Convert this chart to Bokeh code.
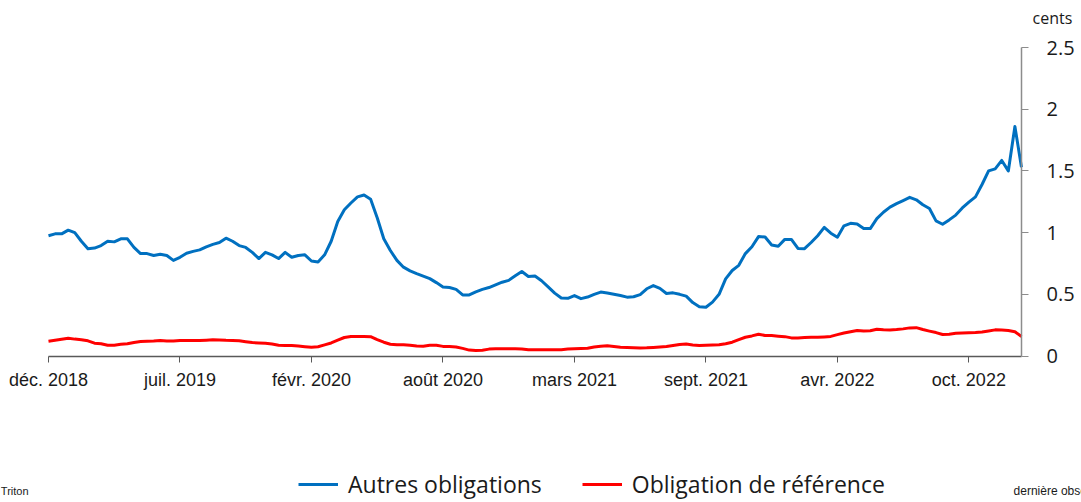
from bokeh.plotting import figure
from bokeh.models import Range1d, FixedTicker, NumeralTickFormatter, Legend, LegendItem, Label
from bokeh.embed import file_html
from bokeh.resources import INLINE

# Weekly-ish observations (category axis), cents
autres_obligations = [
    0.975, 0.99, 0.99, 1.02, 1.0, 0.93, 0.87, 0.875, 0.895, 0.93,
    0.925, 0.95, 0.95, 0.88, 0.83, 0.83, 0.815, 0.825, 0.815, 0.775,
    0.80, 0.833, 0.848, 0.86, 0.885, 0.905, 0.92, 0.955, 0.93, 0.895,
    0.88, 0.84, 0.79, 0.84, 0.82, 0.79, 0.84, 0.80, 0.815, 0.82,
    0.77, 0.762, 0.82, 0.93, 1.09, 1.185, 1.24, 1.29, 1.305, 1.27,
    1.12, 0.95, 0.855, 0.775, 0.72, 0.69, 0.668, 0.648, 0.627, 0.595,
    0.56, 0.555, 0.54, 0.495, 0.495, 0.52, 0.54, 0.555, 0.577, 0.598,
    0.613, 0.65, 0.685, 0.645, 0.648, 0.61, 0.56, 0.51, 0.47, 0.468,
    0.49, 0.465, 0.478, 0.50, 0.518, 0.51, 0.50, 0.49, 0.477, 0.48,
    0.498, 0.545, 0.571, 0.548, 0.507, 0.512, 0.50, 0.485, 0.433, 0.40,
    0.395, 0.437, 0.50, 0.625, 0.693, 0.735, 0.83, 0.885, 0.968, 0.965,
    0.90, 0.89, 0.945, 0.945, 0.872, 0.87, 0.92, 0.975, 1.042, 0.995,
    0.963, 1.055, 1.075, 1.07, 1.033, 1.033, 1.113, 1.165, 1.207, 1.235,
    1.26, 1.286, 1.266, 1.226, 1.195, 1.095, 1.068, 1.103, 1.142, 1.20,
    1.247, 1.29, 1.39, 1.50, 1.517, 1.585, 1.50, 1.86, 1.53,
]

obligation_reference = [
    0.12, 0.128, 0.136, 0.144, 0.137, 0.132, 0.123, 0.104, 0.10, 0.088,
    0.088, 0.095, 0.099, 0.11, 0.118, 0.12, 0.122, 0.126, 0.122, 0.121,
    0.126, 0.126, 0.126, 0.126, 0.128, 0.131, 0.13, 0.127, 0.126, 0.124,
    0.116, 0.109, 0.106, 0.104, 0.097, 0.088, 0.085, 0.085, 0.082, 0.076,
    0.071, 0.075, 0.09, 0.106, 0.128, 0.15, 0.158, 0.158, 0.158, 0.157,
    0.133, 0.112, 0.095, 0.091, 0.091, 0.088, 0.081, 0.08, 0.087, 0.088,
    0.078, 0.077, 0.073, 0.062, 0.048, 0.045, 0.047, 0.056, 0.058, 0.058,
    0.058, 0.058, 0.057, 0.05, 0.05, 0.05, 0.05, 0.05, 0.051, 0.056,
    0.059, 0.061, 0.063, 0.073, 0.08, 0.083, 0.077, 0.071, 0.07, 0.068,
    0.066, 0.067, 0.07, 0.074, 0.077, 0.085, 0.094, 0.097, 0.09, 0.085,
    0.087, 0.089, 0.091, 0.1, 0.112, 0.133, 0.152, 0.163, 0.177, 0.166,
    0.166, 0.161, 0.157, 0.147, 0.147, 0.15, 0.152, 0.152, 0.155, 0.159,
    0.173, 0.186, 0.197, 0.207, 0.203, 0.205, 0.217, 0.212, 0.211, 0.214,
    0.22, 0.228, 0.23, 0.215, 0.202, 0.19, 0.174, 0.177, 0.184, 0.187,
    0.189, 0.191, 0.195, 0.203, 0.212, 0.21, 0.207, 0.197, 0.158,
]

periods = list(range(len(autres_obligations)))

x_tick_positions = [0, 20, 40, 60, 80, 100, 120, 140]
x_tick_labels = ["déc. 2018", "juil. 2019", "févr. 2020", "août 2020",
                 "mars 2021", "sept. 2021", "avr. 2022", "oct. 2022"]
y_ticks = [0, 0.5, 1, 1.5, 2, 2.5]

series_names = ["Autres obligations", "Obligation de référence"]

last = len(periods) - 1
# The frame covers the whole canvas; axes are pinned at y=0 and x=last
x_lo, x_hi = -7.30, last + 9.13
y_lo, y_hi = -1.187, 2.881

p = figure(width=1081, height=502, output_backend="svg", toolbar_location=None,
           x_range=Range1d(x_lo, x_hi), y_range=Range1d(y_lo, y_hi),
           y_axis_location="right",
           min_border_left=0, min_border_right=0, min_border_top=0, min_border_bottom=0)
p.outline_line_color = None
p.grid.visible = False
p.background_fill_color = "white"

r1 = p.line(periods, autres_obligations, line_color="#0070C0", line_width=3, line_join="round")
r2 = p.line(periods, obligation_reference, line_color="#FF0000", line_width=3, line_join="round")

xa = p.xaxis[0]
xa.fixed_location = 0
xa.bounds = (0, last)
xa.ticker = FixedTicker(ticks=x_tick_positions)
xa.major_label_overrides = {t: l for t, l in zip(x_tick_positions, x_tick_labels)}
xa.axis_line_color = "#595959"
xa.axis_line_width = 1.5
xa.major_tick_line_color = "#595959"
xa.major_tick_in = 0
xa.major_tick_out = 6
xa.minor_tick_line_color = None
xa.major_label_standoff = 8
xa.major_label_text_font = "Liberation Sans"
xa.major_label_text_font_size = "18px"
xa.major_label_text_color = "#1a1a1a"

ya = p.yaxis[0]
ya.fixed_location = last
ya.bounds = (0, 2.5)
ya.ticker = FixedTicker(ticks=y_ticks)
ya.formatter = NumeralTickFormatter(format="0.[0]")
ya.axis_line_color = "#8c8c8c"
ya.axis_line_width = 1.5
ya.major_tick_line_color = "#8c8c8c"
ya.major_tick_in = 0
ya.major_tick_out = 7
ya.minor_tick_line_color = None
ya.major_label_standoff = 18
ya.major_label_text_font = "Open Sans"
ya.major_label_text_font_size = "20px"
ya.major_label_text_color = "#1a1a1a"

legend = Legend(items=[LegendItem(label=series_names[0], renderers=[r1]),
                       LegendItem(label=series_names[1], renderers=[r2])],
                orientation="horizontal", location=(298, 2),
                glyph_width=40, glyph_height=20, label_standoff=10, spacing=40,
                padding=0, margin=0, border_line_color=None, background_fill_alpha=0,
                label_text_font="Open Sans", label_text_font_size="23px",
                label_text_color="#1a1a1a")
p.add_layout(legend)

p.add_layout(Label(x=152.7, y=2.743, text="cents", text_align="center", text_baseline="middle",
                   text_font="Open Sans", text_font_size="16px", text_color="#1a1a1a"))
p.add_layout(Label(x=-7.25, y=-1.09, text="Triton", text_align="left", text_baseline="middle",
                   text_font="Liberation Sans", text_font_size="11px", text_color="#1a1a1a"))
p.add_layout(Label(x=146.8, y=-1.09, text="dernière observation", text_align="left", text_baseline="middle",
                   text_font="Liberation Sans", text_font_size="12px", text_color="#1a1a1a"))

open("out.html", "w").write(file_html(p, INLINE))
